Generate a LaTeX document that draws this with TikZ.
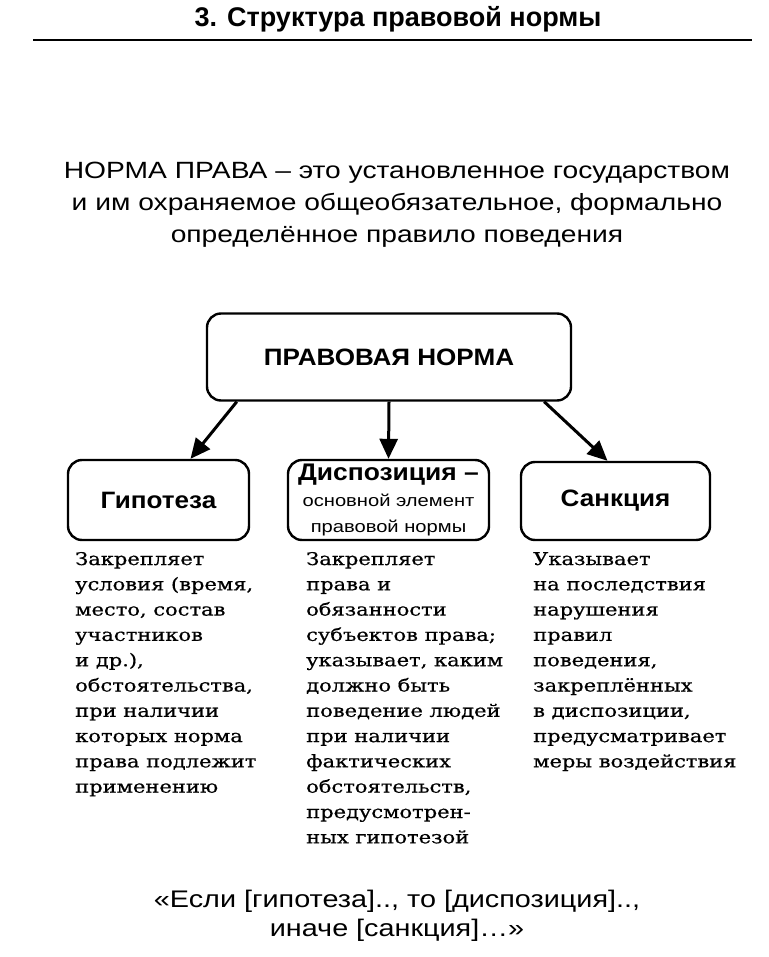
\documentclass[tikz,border=0pt]{standalone}
\usepackage{fontspec}
\setmainfont{Liberation Sans}[FakeStretch=1.2]
\newfontfamily\titlefont{Liberation Sans}
\newfontfamily\headfont{Liberation Sans}[FakeStretch=1.1]
\newfontfamily\colfont{DejaVu Serif}[FakeStretch=1.2,FakeBold=0.6]
\usetikzlibrary{shapes}
\usetikzlibrary{arrows.meta}

\begin{document}
\begin{tikzpicture}[x=1pt,y=-1pt]
    \tikzstyle{every node}=[inner sep=0pt]
    \tikzstyle{box}=[rectangle,rounded corners=14pt,draw,line width=2.4pt,align=center]
    \tikzstyle{head}=[font=\headfont\bfseries\fontsize{23.7}{27}\selectfont]
    \tikzstyle{col}=[anchor=base west,align=left,font=\colfont\fontsize{17.5}{25.3}\selectfont]
    \tikzstyle{link}=[line width=3pt,-{Triangle[length=20pt,width=18pt]}]
    \tikzstyle{plain}=[align=center,font=\fontsize{23.5}{32}\selectfont]
    \useasboundingbox[fill=white] (0,0) rectangle (768,957);
    \node[font=\titlefont\bfseries\fontsize{27}{30}\selectfont] (title) at (398,19) {3. Структура правовой нормы};
    \draw[line width=2.6pt] (33,40) -- (752,40);
    \node[plain] (def) at (397,205) {НОРМА ПРАВА – это установленное государством\\и им охраняемое общеобязательное, формально\\определённое правило поведения};
    \node[box,head,minimum width=364pt,minimum height=87pt] (norm) at (389,357) {ПРАВОВАЯ НОРМА};
    \node[box,head,minimum width=181pt,minimum height=80pt] (hyp) at (158.5,500) {Гипотеза};
    \node[box,font=\fontsize{16.8}{26}\selectfont,minimum width=201pt,minimum height=80pt] (disp) at (388.5,500)
      {{\headfont\bfseries\fontsize{24}{26}\selectfont Диспозиция –}\\основной элемент\\правовой нормы};
    \node[box,head,minimum width=189pt,minimum height=78pt] (sanc) at (615.5,501) {Санкция};
    \draw[link] ([xshift=31pt]norm.south west) -- ([xshift=32pt]hyp.north);
    \draw[link] (norm.south) -- (disp.north);
    \draw[link] ([xshift=-28pt]norm.south east) -- ([xshift=-8pt]sanc.north);
    \node[col] (hyptext) at (75,792.7) {Закрепляет\\условия (время,\\место, состав\\участников\\и др.),\\обстоятельства,\\при наличии\\которых норма\\права подлежит\\применению};
    \node[col] (disptext) at (306,843.3) {Закрепляет\\права и\\обязанности\\субъектов права;\\указывает, каким\\должно быть\\поведение людей\\при наличии\\фактических\\обстоятельств,\\предусмотрен-\\ных гипотезой};
    \node[col] (sanctext) at (533,767.4) {Указывает\\на последствия\\нарушения\\правил\\поведения,\\закреплённых\\в диспозиции,\\предусматривает\\меры воздействия};
    \node[align=center,font=\fontsize{24}{29}\selectfont] (rule) at (397,916) {«Если [гипотеза].., то [диспозиция]..,\\иначе [санкция]…»};
\end{tikzpicture}
\end{document}
